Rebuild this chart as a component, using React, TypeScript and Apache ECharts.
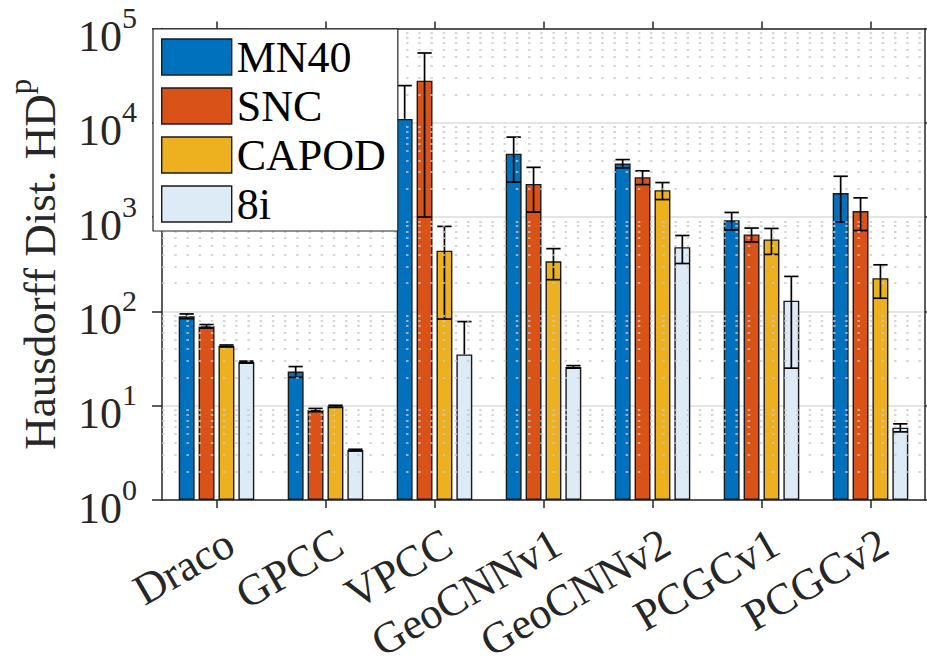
import React, { useEffect, useRef } from "react";
import * as echarts from "echarts";

const categories = ["Draco", "GPCC", "VPCC", "GeoCNNv1", "GeoCNNv2", "PCGCv1", "PCGCv2"];
const seriesNames = ["MN40", "SNC", "CAPOD", "8i"];
const mn40Mean = [89, 23, 11000, 4700, 3700, 925, 1800];
const mn40Std = [5, 3, 13800, 2350, 370, 195, 910];
const sncMean = [69.5, 9, 28000, 2250, 2650, 655, 1160];
const sncStd = [3, 0.35, 27000, 1120, 440, 110, 440];
const capodMean = [43, 9.85, 440, 340, 1930, 580, 225];
const capodStd = [1, 0.25, 357, 123, 395, 178, 87];
const i8Mean = [29, 3.38, 35, 25.8, 480, 130, 5.85];
const i8Std = [0.7, 0.07, 43, 0.8, 158, 105, 0.57];
const yMin = 1;
const yMax = 100000;
const minorMultipliers = [2, 3, 4, 5, 6, 7, 8, 9];
const decadeExponents = [0, 1, 2, 3, 4];

const colors = ["#0072BD", "#D95319", "#EDB120", "#DDEBF7"];
const FONT = "Liberation Serif";
const BAR_FRAC = 0.146;

const means = [mn40Mean, sncMean, capodMean, i8Mean];
const stds = [mn40Std, sncStd, capodStd, i8Std];

function makeErrRender(idx: number) {
  return (params: any, api: any) => {
    const c = api.value(0);
    const lo = api.value(1);
    const hi = api.value(2);
    const m = api.value(3);
    const p0 = api.coord([c, m]);
    const band = api.size([1, 1], [c, m])[0];
    const barW = band * BAR_FRAC;
    const pitch = barW * 1.25;
    const x = p0[0] + (idx - 1.5) * pitch;
    const capHalf = barW * 0.45;
    const yHi = api.coord([c, hi])[1];
    const yLo = lo > 0 ? api.coord([c, lo])[1] : p0[1];
    const st = { stroke: "#000", lineWidth: 1.7 };
    const children: any[] = [
      { type: "line", shape: { x1: x, y1: yHi, x2: x, y2: yLo }, style: st },
      { type: "line", shape: { x1: x - capHalf, y1: yHi, x2: x + capHalf, y2: yHi }, style: st },
    ];
    if (lo > 0) {
      children.push({ type: "line", shape: { x1: x - capHalf, y1: yLo, x2: x + capHalf, y2: yLo }, style: st });
    }
    return { type: "group", children };
  };
}

export default function App() {
  const ref = useRef<HTMLDivElement>(null);
  useEffect(() => {
    if (!ref.current) return;
    const chart = echarts.init(ref.current, null, { renderer: "svg" });

    const minorValues: number[] = [];
    decadeExponents.forEach((e) => minorMultipliers.forEach((k) => minorValues.push(k * Math.pow(10, e))));

    const barSeries = seriesNames.map((name, i) => ({
      name,
      type: "bar",
      data: means[i],
      barWidth: BAR_FRAC * 100 + "%",
      barGap: "25%",
      itemStyle: { color: colors[i], borderColor: "#1a1a1a", borderWidth: 1.4 },
      z: 2,
    }));

    const errSeries = seriesNames.map((name, i) => ({
      name: name + " error",
      type: "custom",
      renderItem: makeErrRender(i),
      data: means[i].map((m, j) => [j, m - stds[i][j], m + stds[i][j], m]),
      encode: { x: 0, y: [1, 2] },
      z: 3,
      silent: true,
    }));

    const supRich = {
      b: { fontFamily: FONT, fontSize: 44, color: "#262626", padding: [16, 0, 0, 0] },
      s: { fontFamily: FONT, fontSize: 30, color: "#262626", padding: [0, 0, 22, 0] },
    };
    const nameRich = {
      b: { fontFamily: FONT, fontSize: 45, color: "#262626", padding: [16, 0, 0, 0] },
      s: { fontFamily: FONT, fontSize: 31, color: "#262626", padding: [0, 0, 22, 0] },
    };

    const option: any = {
      animation: false,
      textStyle: { fontFamily: FONT },
      grid: { left: 162, right: 2, top: 28.5, bottom: 163, containLabel: false, outerBoundsMode: "none" },
      legend: {
        data: seriesNames,
        orient: "vertical",
        left: 153,
        top: 29,
        itemWidth: 70,
        itemHeight: 36,
        itemGap: 5,
        padding: [6, 12, 5, 8],
        backgroundColor: "#fff",
        borderColor: "#262626",
        borderWidth: 1.2,
        icon: "rect",
        itemStyle: { borderColor: "#1a1a1a", borderWidth: 1.4 },
        textStyle: { fontFamily: FONT, fontSize: 44, color: "#000" },
        z: 20,
        selectedMode: false,
      },
      xAxis: [
        {
          type: "category",
          data: categories,
          position: "bottom",
          axisLine: { show: true, lineStyle: { color: "#262626", width: 1.5 } },
          axisTick: { show: true, alignWithLabel: true, inside: false, length: 8, lineStyle: { color: "#262626", width: 1.5 } },
          axisLabel: {
            interval: 0,
            rotate: 30,
            margin: 48,
            padding: [0, -16, 0, 0],
            fontFamily: FONT,
            fontSize: 44,
            color: "#262626",
          },
          splitLine: { show: false },
        },
        {
          type: "category",
          data: categories,
          position: "top",
          axisLine: { show: true, lineStyle: { color: "#262626", width: 1.5 } },
          axisTick: { show: true, alignWithLabel: true, inside: false, length: 7, lineStyle: { color: "#262626", width: 1.5 } },
          axisLabel: { show: false },
          splitLine: { show: false },
        },
      ],
      yAxis: [
        {
          type: "log",
          logBase: 10,
          min: yMin,
          max: yMax,
          position: "left",
          name: "{b|Hausdorff Dist. HD}{s|p}",
          nameLocation: "middle",
          nameGap: 100,
          nameRotate: 90,
          nameTextStyle: { fontFamily: FONT, fontSize: 45, rich: nameRich },
          axisLine: { show: true, lineStyle: { color: "#262626", width: 1.5 } },
          axisTick: { show: true, inside: false, length: 10, lineStyle: { color: "#262626", width: 1.5 } },
          axisLabel: {
            margin: 25,
            fontFamily: FONT,
            fontSize: 44,
            formatter: (v: number) => `{b|10}{s|${Math.round(Math.log10(v))}}`,
            rich: supRich,
          },
          splitLine: { show: true, lineStyle: { color: "#dcdcdc", width: 1.5, type: "solid" } },
        },
        {
          type: "log",
          logBase: 10,
          min: yMin,
          max: yMax,
          position: "right",
          axisLine: { show: true, lineStyle: { color: "#262626", width: 1.5 } },
          axisTick: { show: true, inside: false, length: 8, lineStyle: { color: "#262626", width: 1.5 } },
          axisLabel: { show: false },
          splitLine: { show: false },
        },
      ],
      series: [
        {
          name: "minorGrid",
          type: "line",
          data: [],
          silent: true,
          z: 1,
          markLine: {
            silent: true,
            symbol: ["none", "none"],
            label: { show: false },
            lineStyle: { color: "#c8c8c8", type: [2.5, 9.7], width: 1.5 },
            emphasis: { disabled: true },
            data: minorValues.map((v) => ({ yAxis: v })),
          },
        },
        ...barSeries,
        ...errSeries,
      ],
    };
    chart.setOption(option);
    return () => chart.dispose();
  }, []);
  return (
    <div
      ref={ref}
      style={{ position: "absolute", left: 0, top: 0, width: 927, height: 663, background: "#fff", fontFamily: FONT }}
    />
  );
}
